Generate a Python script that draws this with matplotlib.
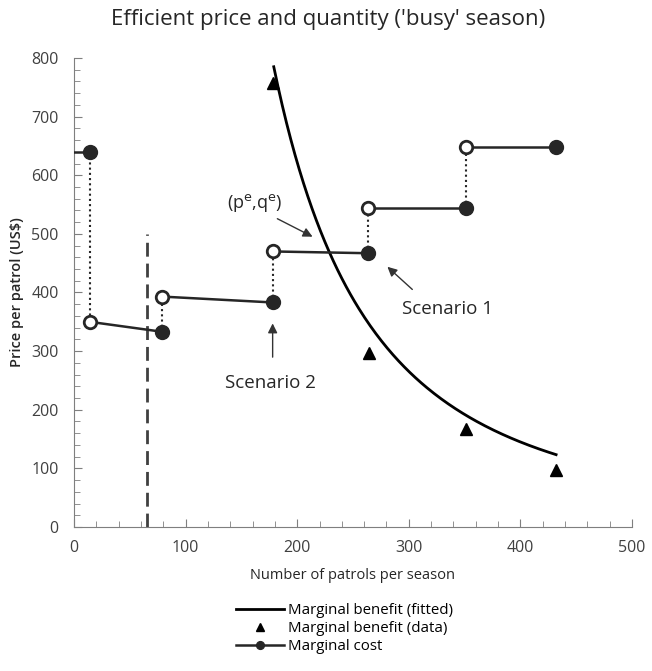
import numpy as np
import matplotlib
matplotlib.use("Agg")
import matplotlib.pyplot as plt

plt.rcParams['font.family'] = ['Open Sans', 'DejaVu Sans']

# marginal cost steps: each step starts at an open point and ends at a filled point
mc_x = [14, 79, 178, 263, 351, 432]
mc_filled = [640, 333, 383, 467, 544, 649]
mc_open = [350, 393, 470, 544, 649]

# marginal benefit data
mb_x = [178, 264, 351, 432]
mb_y = [757, 296, 167, 98]

# fitted marginal benefit: p = p0 * (q / q0) ** k
fit_q0 = 179
fit_p0 = 785
fit_k = -2.1
fit_qmax = 432

cap_x = 65
cap_top = 500

xticks = [0, 100, 200, 300, 400, 500]
yticks = [0, 100, 200, 300, 400, 500, 600, 700, 800]

fig = plt.figure(figsize=(6.52, 6.71), dpi=100)
ax = fig.add_axes([0.1135, 0.2146, 0.8558, 0.699])

grey = '#7f7f7f'
dark = '#262626'

# fitted curve
q = np.linspace(fit_q0, fit_qmax, 200)
ax.plot(q, fit_p0 * (q / fit_q0) ** fit_k, color='black', lw=2, label='Marginal benefit (fitted)', zorder=3)

# data triangles
ax.plot(mb_x, mb_y, '^', color='black', ms=9, ls='none', label='Marginal benefit (data)', zorder=4)

# marginal cost
ax.plot([0, mc_x[0]], [mc_filled[0], mc_filled[0]], color=dark, lw=1.8, zorder=3)
for i in range(len(mc_open)):
    ax.plot([mc_x[i], mc_x[i + 1]], [mc_open[i], mc_filled[i + 1]], color=dark, lw=1.8, zorder=3)
    ax.plot([mc_x[i], mc_x[i]], [mc_filled[i], mc_open[i]], color=dark, lw=1.5, ls=(0, (1, 1.5)), zorder=2)
ax.plot(mc_x, mc_filled, 'o', color=dark, ms=10, ls='none', zorder=5)
ax.plot(mc_x[:-1], mc_open, 'o', mfc='white', mec=dark, mew=2, ms=9, ls='none', zorder=5)
mc_handle, = ax.plot([], [], '-o', color=dark, lw=1.8, ms=8, label='Marginal cost')

# dashed vertical line
ax.plot([cap_x, cap_x], [0, cap_top], color='#404040', lw=2, ls=(0, (5, 2.5)), zorder=2)

# annotations
arrow = dict(arrowstyle='-|>', color='#333333', lw=1, mutation_scale=14)
ax.annotate('', xy=(216, 493), xytext=(180, 528), arrowprops=arrow)
ax.text(162, 553, '(p$^{\\mathrm{e}}$,q$^{\\mathrm{e}}$)', ha='center', va='center', fontsize=13, color=dark)
ax.annotate('', xy=(279, 447), xytext=(305, 402), arrowprops=arrow)
ax.text(335, 372, 'Scenario 1', ha='center', va='center', fontsize=13.5, color=dark)
ax.annotate('', xy=(178, 352), xytext=(178, 285), arrowprops=arrow)
ax.text(176, 246, 'Scenario 2', ha='center', va='center', fontsize=13.5, color=dark)

ax.set_xlim(0, 500)
ax.set_ylim(0, 800)
ax.set_xticks(xticks)
ax.set_yticks(yticks)
ax.set_xticks(np.arange(0, 501, 20), minor=True)
ax.set_yticks(np.arange(0, 801, 20), minor=True)
ax.tick_params(which='both', direction='in', color=grey, labelcolor='#404040', labelsize=11.5)
ax.tick_params(which='major', length=6)
ax.tick_params(which='minor', length=4)
ax.tick_params(axis='y', which='major', pad=11)
ax.tick_params(axis='x', which='major', pad=9)
ax.spines['top'].set_visible(False)
ax.spines['right'].set_visible(False)
ax.spines['left'].set_color(grey)
ax.spines['bottom'].set_color(grey)

ax.set_xlabel('Number of patrols per season', fontsize=10.5, color='#262626', labelpad=9)
ax.set_ylabel('Price per patrol (US$)', fontsize=10.5, fontweight='semibold', color='#262626', labelpad=5)
fig.text(0.503, 0.971, "Efficient price and quantity ('busy' season)", ha='center', va='center',
         fontsize=16, color='#262626')

fig.legend(loc='upper left', bbox_to_anchor=(0.35, 0.112), frameon=False, borderpad=0,
           fontsize=10.8, handlelength=3.2, labelspacing=0.2, handletextpad=0.3, numpoints=1,
           markerscale=0.7)

fig.savefig('out.png', dpi=100)
